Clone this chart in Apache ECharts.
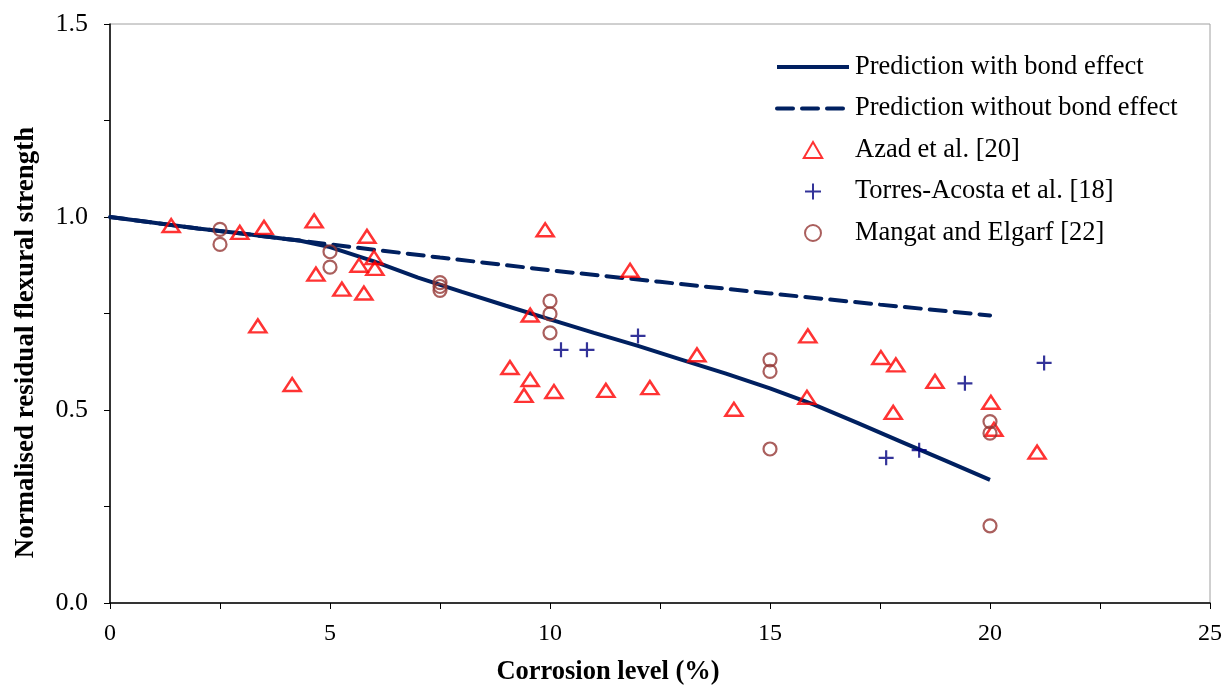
<!DOCTYPE html>
<html>
<head>
<meta charset="utf-8">
<script src="https://cdn.jsdelivr.net/npm/echarts@6/dist/echarts.min.js"></script>
<style>
  html, body { margin: 0; padding: 0; background: #fff; }
  #chart { width: 1226px; height: 691px; }
</style>
</head>
<body>
<div id="chart"></div>
<script>
// prediction curves
var withBondX = [0, 1, 2, 3, 4, 4.3, 5, 6, 7, 8, 9, 10, 11, 12, 13, 14, 15, 16, 17, 18, 19, 20]
var withBondY = [1.0, 0.985, 0.97, 0.957, 0.943, 0.939, 0.922, 0.885, 0.843, 0.806, 0.77, 0.735, 0.70, 0.666, 0.630, 0.594, 0.556, 0.514, 0.466, 0.417, 0.368, 0.319]
var noBondX = [0, 1, 2, 3, 4, 4.3, 5, 7.5, 10, 12.5, 15, 17.5, 20]
var noBondY = [1.0, 0.985, 0.97, 0.957, 0.943, 0.939, 0.929, 0.895, 0.862, 0.832, 0.802, 0.773, 0.745]

// Azad et al. [20]
var azadX = [1.39, 2.95, 3.5, 3.36, 4.14, 4.64, 4.68, 5.27, 5.66, 5.84, 5.77, 6.0, 6.02, 9.89, 9.55, 9.09, 9.55, 9.41, 10.09, 11.27, 12.27, 11.82, 13.34, 14.18, 15.86, 15.84, 17.52, 17.86, 17.8, 18.75, 20.02, 20.09, 21.07]
var azadY = [0.978, 0.96, 0.973, 0.718, 0.566, 0.99, 0.852, 0.813, 0.875, 0.95, 0.803, 0.895, 0.867, 0.967, 0.746, 0.61, 0.579, 0.538, 0.548, 0.551, 0.558, 0.862, 0.643, 0.502, 0.692, 0.533, 0.636, 0.617, 0.494, 0.574, 0.52, 0.45, 0.391]

// Torres-Acosta et al. [18]
var torresX = [10.25, 10.84, 12.0, 17.64, 18.39, 19.43, 21.23]
var torresY = [0.656, 0.656, 0.692, 0.376, 0.396, 0.569, 0.622]

// Mangat and Elgarf [22]
var mangatX = [2.5, 2.5, 5.0, 5.0, 7.5, 7.5, 7.5, 10, 10, 10, 15, 15, 15, 20, 20, 20]
var mangatY = [0.968, 0.929, 0.91, 0.87, 0.83, 0.82, 0.81, 0.782, 0.749, 0.70, 0.63, 0.60, 0.399, 0.47, 0.44, 0.20]

function pairs(xs, ys) {
  return xs.map(function (x, i) { return [x, ys[i]] })
}

var serif = 'Liberation Serif'
var navy = '#002060'
var chart = echarts.init(document.getElementById('chart'))

chart.setOption({
  backgroundColor: '#fff',
  animation: false,
  textStyle: { fontFamily: serif, color: '#000' },
  grid: {
    left: 110, right: 16, top: 24, bottom: 84,
    show: true, borderColor: '#a0a0a0', borderWidth: 1
  },
  legend: {
    orient: 'vertical',
    left: 770,
    top: 48,
    itemWidth: 72,
    itemHeight: 16,
    itemGap: 13.5,
    lineStyle: { width: 4 },
    textStyle: { fontFamily: serif, fontSize: 26.5, lineHeight: 28, color: '#000', padding: [0, 0, 0, 1] },
    data: [
      { name: 'Prediction with bond effect', itemStyle: { opacity: 0 } },
      { name: 'Prediction without bond effect', itemStyle: { opacity: 0 } },
      'Azad et al. [20]', 'Torres-Acosta et al. [18]', 'Mangat and Elgarf [22]'
    ]
  },
  xAxis: {
    type: 'value',
    min: 0, max: 25, interval: 2.5,
    name: 'Corrosion level (%)',
    nameLocation: 'middle',
    nameGap: 56,
    nameTextStyle: { fontFamily: serif, fontSize: 26.5, fontWeight: 'bold', color: '#000', padding: [0, 104, 0, 0] },
    axisLine: { lineStyle: { color: '#000', width: 1.5 } },
    axisTick: { show: true, length: 6, lineStyle: { color: '#000' } },
    axisLabel: {
      fontFamily: serif, fontSize: 24, color: '#000', margin: 19,
      formatter: function (v) { return v % 5 === 0 ? String(v) : '' }
    },
    splitLine: { show: false }
  },
  yAxis: {
    type: 'value',
    min: 0, max: 1.5, interval: 0.25,
    name: 'Normalised residual flexural strength',
    nameLocation: 'middle',
    nameGap: 70,
    nameTextStyle: { fontFamily: serif, fontSize: 27, fontWeight: 'bold', color: '#000', padding: [0, 58, 0, 0] },
    axisLine: { show: true, lineStyle: { color: '#000', width: 1.5 } },
    axisTick: { show: true, length: 6, lineStyle: { color: '#000' } },
    axisLabel: {
      fontFamily: serif, fontSize: 26, color: '#000', margin: 22,
      formatter: function (v) { return Math.abs(v * 2 - Math.round(v * 2)) < 1e-6 ? v.toFixed(1) : '' }
    },
    splitLine: { show: false }
  },
  series: [
    {
      name: 'Prediction without bond effect',
      type: 'line',
      data: pairs(noBondX, noBondY),
      showSymbol: false,
      symbol: 'none',
      lineStyle: { color: navy, width: 4, type: [16, 9], cap: 'round' },
      itemStyle: { color: navy },
      z: 2
    },
    {
      name: 'Prediction with bond effect',
      type: 'line',
      data: pairs(withBondX, withBondY),
      showSymbol: false,
      symbol: 'none',
      lineStyle: { color: navy, width: 4 },
      itemStyle: { color: navy },
      z: 3
    },
    {
      name: 'Azad et al. [20]',
      type: 'scatter',
      data: pairs(azadX, azadY),
      symbol: 'path://M5,0L10,8.66L0,8.66Z',
      symbolKeepAspect: true,
      symbolSize: [17, 15],
      itemStyle: { color: 'rgba(255,255,255,0)', borderColor: '#ff0000', borderWidth: 2.5 },
      z: 4
    },
    {
      name: 'Torres-Acosta et al. [18]',
      type: 'scatter',
      data: pairs(torresX, torresY),
      symbol: 'path://M0,5L10,5M5,0L5,10',
      symbolSize: 15,
      itemStyle: { color: 'rgba(0,0,0,0)', borderColor: '#000080', borderWidth: 2.2 },
      z: 4
    },
    {
      name: 'Mangat and Elgarf [22]',
      type: 'scatter',
      data: pairs(mangatX, mangatY),
      symbol: 'circle',
      symbolSize: 13,
      itemStyle: { color: 'rgba(255,255,255,0)', borderColor: '#953735', borderWidth: 2.2 },
      z: 4
    }
  ]
})
</script>
</body>
</html>
